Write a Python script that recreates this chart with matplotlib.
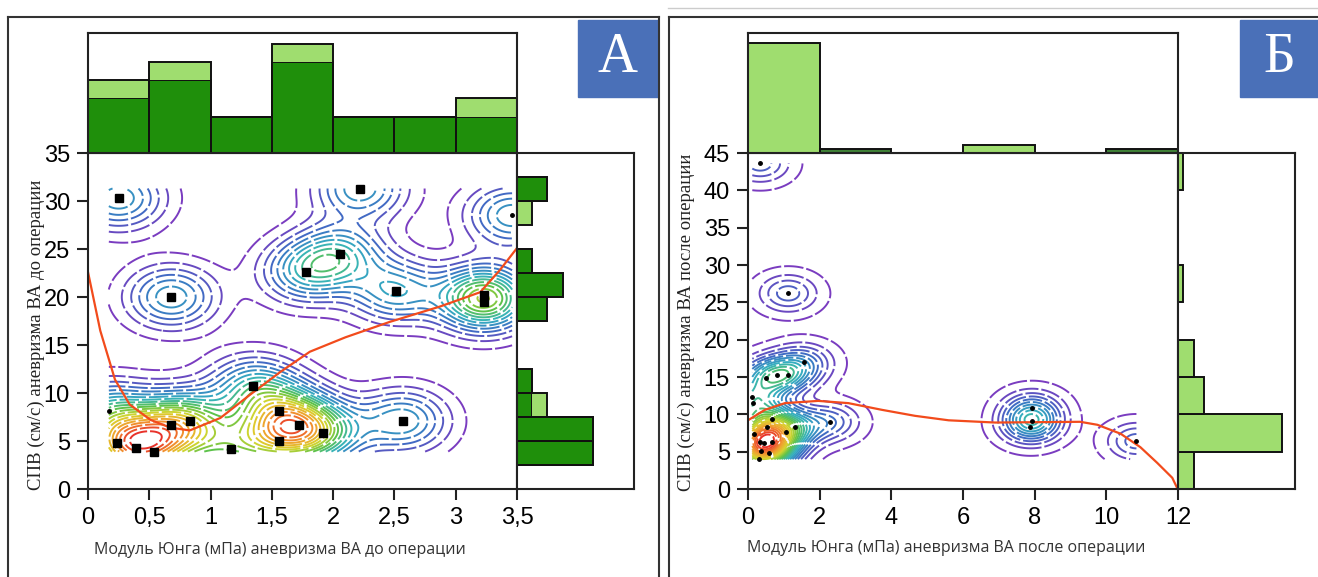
import numpy as np
import matplotlib
matplotlib.use('Agg')
import matplotlib.pyplot as plt
from matplotlib.lines import Line2D
from matplotlib.patches import Rectangle
from matplotlib.colors import LinearSegmentedColormap

# ---- Panel A data (before operation) ----
a_x = [0.25, 0.68, 2.22, 1.78, 2.06, 2.51, 3.23, 3.23, 1.35, 0.24, 0.39, 0.54,
       0.68, 0.83, 1.17, 1.56, 1.56, 1.72, 1.92, 2.57]
a_y = [30.3, 20.0, 31.3, 22.6, 24.5, 20.6, 20.2, 19.5, 10.7, 4.8, 4.3, 3.9,
       6.7, 7.1, 4.2, 8.1, 5.0, 6.7, 5.8, 7.1]
a_dot_x = [0.17, 3.46]
a_dot_y = [8.1, 28.5]

a_fit_x = [0.0, 0.10, 0.22, 0.34, 0.51, 0.67, 0.83, 1.08, 1.32, 1.57, 1.81, 2.10,
           2.46, 2.87, 3.20, 3.36, 3.50]
a_fit_y = [22.6, 16.5, 11.4, 8.8, 7.2, 6.4, 6.1, 7.4, 9.8, 12.2, 14.3, 15.8,
           17.4, 19.0, 20.5, 22.8, 25.1]

a_xbins = [0, 0.5, 1, 1.5, 2, 2.5, 3, 3.5]
a_top_dark = [3, 4, 2, 5, 2, 2, 2]
a_top_light = [1, 1, 0, 1, 0, 0, 1]

a_ybins = [2.5, 5, 7.5, 10, 12.5, 15, 17.5, 20, 22.5, 25, 27.5, 30, 32.5]
a_side_dark = [5, 5, 1, 1, 0, 0, 2, 3, 1, 0, 0, 2]
a_side_light = [0, 0, 1, 0, 0, 0, 0, 0, 0, 0, 1, 0]

a_xticks = [0, 0.5, 1, 1.5, 2, 2.5, 3, 3.5]
a_xticklabels = ['0', '0,5', '1', '1,5', '2', '2,5', '3', '3,5']
a_yticks = [0, 5, 10, 15, 20, 25, 30, 35]

# ---- Panel B data (after operation) ----
b_x = [0.34, 1.12, 1.56, 0.50, 0.80, 1.12, 0.12, 0.14, 2.30, 0.53, 0.17, 1.06,
       0.34, 0.45, 0.67, 0.36, 0.59, 0.31, 1.30, 0.67, 7.93, 7.93, 7.88, 10.84]
b_y = [43.6, 26.2, 17.0, 14.9, 15.3, 15.3, 12.3, 11.5, 9.0, 8.3, 7.4, 7.6,
       6.3, 6.1, 6.3, 5.1, 4.8, 4.0, 8.3, 9.4, 10.8, 9.1, 8.3, 6.4]

b_fit_x = [0.0, 0.47, 1.03, 1.96, 2.80, 3.74, 4.66, 5.60, 6.90, 9.27, 9.75, 10.40,
           10.95, 11.42, 11.84, 11.98]
b_fit_y = [9.2, 10.6, 11.5, 11.8, 11.5, 10.6, 9.8, 9.2, 8.9, 9.0, 8.6, 7.4,
           5.6, 3.5, 1.5, 0.1]

b_xbins = [0, 2, 4, 6, 8, 10, 12]
b_top_light = [29, 0, 0, 2, 0, 0]
b_top_dark = [0, 1, 0, 0, 0, 1]

b_ybins = [0, 5, 10, 15, 20, 25, 30, 35, 40, 45]
b_side = [3, 20, 5, 3, 0, 1, 0, 0, 1]

b_xticks = [0, 2, 4, 6, 8, 10, 12]
b_yticks = [0, 5, 10, 15, 20, 25, 30, 35, 40, 45]

DARK = '#1f8f0b'
LIGHT = '#9fdd6f'
DARK_B = '#3f8136'
FIT = '#f24b1c'
W, H = 1318, 577

dens_cmap = LinearSegmentedColormap.from_list(
    'dens', ['#7a3cc0', '#3b6fc4', '#35b3c0', '#5cc24a', '#d9d62e',
             '#f29a2e', '#e8322a'])


def box(x0, y0, x1, y1):
    # pixel box -> figure fraction rect
    return [x0 / W, 1 - y1 / H, (x1 - x0) / W, (y1 - y0) / H]


def kde(xs, ys, gx, gy, bx, by):
    GX, GY = np.meshgrid(gx, gy)
    Z = np.zeros_like(GX)
    for x, y in zip(xs, ys):
        Z += np.exp(-0.5 * ((GX - x) / bx) ** 2 - 0.5 * ((GY - y) / by) ** 2)
    return GX, GY, Z


def style_main(ax):
    for s in ax.spines.values():
        s.set_linewidth(1.5)
        s.set_color('#222222')
    ax.tick_params(direction='out', length=8, width=1.5, labelsize=17, pad=5,
                   color='#222222')
    for lab in ax.get_xticklabels() + ax.get_yticklabels():
        lab.set_fontfamily('Liberation Sans')


def style_hist(ax):
    ax.set_xticks([])
    ax.set_yticks([])
    for s in ax.spines.values():
        s.set_linewidth(1.5)
        s.set_color('#222222')


fig = plt.figure(figsize=(13.18, 5.77), dpi=100)
dash = [(0, (10, 1.5))]

# ---------------- Panel A ----------------
ax = fig.add_axes(box(88, 153, 517, 489))
gx = np.linspace(min(a_x + a_dot_x), max(a_x + a_dot_x), 240)
gy = np.linspace(min(a_y), max(a_y), 240)
GX, GY, Z = kde(a_x + a_dot_x, a_y + a_dot_y, gx, gy, 0.25, 2.2)
lev = np.linspace(0.035, 0.95, 21) * Z.max()
ax.contour(GX, GY, Z, levels=lev, cmap=dens_cmap, linewidths=1.4, linestyles=dash)
ax.plot(a_fit_x, a_fit_y, color=FIT, lw=1.6)
ax.plot(a_x, a_y, 's', color='black', ms=5.5)
ax.plot(a_dot_x, a_dot_y, 'o', color='black', ms=2.5)
ax.set_xlim(0, 3.5)
ax.set_ylim(0, 35)
ax.set_xticks(a_xticks)
ax.set_xticklabels(a_xticklabels)
ax.set_yticks(a_yticks)
style_main(ax)

axt = fig.add_axes(box(88, 33, 517, 153))
wa = np.diff(a_xbins)
axt.bar(a_xbins[:-1], a_top_dark, width=wa, align='edge', color=DARK,
        edgecolor='#111111', lw=1.4)
axt.bar(a_xbins[:-1], a_top_light, width=wa, bottom=a_top_dark, align='edge',
        color=LIGHT, edgecolor='none')
axt.bar(a_xbins[:-1], np.add(a_top_dark, a_top_light), width=wa, align='edge',
        color='none', edgecolor='#111111', lw=1.4)
axt.set_xlim(0, 3.5)
axt.set_ylim(0, 6.6)
style_hist(axt)

axr = fig.add_axes(box(517, 153, 634, 489))
ha = np.diff(a_ybins)
axr.barh(a_ybins[:-1], a_side_dark, height=ha, align='edge', color=DARK,
         edgecolor='#111111', lw=1.4)
axr.barh(a_ybins[:-1], a_side_light, height=ha, left=a_side_dark, align='edge',
         color=LIGHT, edgecolor='none')
axr.barh(a_ybins[:-1], np.add(a_side_dark, a_side_light), height=ha, align='edge',
         color='none', edgecolor='#111111', lw=1.4)
axr.set_ylim(0, 35)
axr.set_xlim(0, 7.7)
style_hist(axr)

fig.text(280 / W, 1 - 550 / H, 'Модуль Юнга (мПа) аневризма ВА до операции',
         ha='center', va='center', fontsize=11.5, family='Open Sans', color='#333333')
fig.text(36 / W, 1 - 335 / H, 'СПВ (см/с) аневризма ВА до операции',
         ha='center', va='center', rotation=90, fontsize=13.5,
         family='Liberation Serif', color='#222222')

# ---------------- Panel B ----------------
bx = fig.add_axes(box(748, 153, 1178, 489))
gx = np.linspace(min(b_x), max(b_x), 280)
gy = np.linspace(min(b_y), max(b_y), 280)
GX, GY, Z = kde(b_x, b_y, gx, gy, 0.55, 1.7)
lev = np.linspace(0.015, 0.95, 26) * Z.max()
bx.contour(GX, GY, Z, levels=lev, cmap=dens_cmap, linewidths=1.4, linestyles=dash)
bx.plot(b_fit_x, b_fit_y, color=FIT, lw=1.6)
bx.plot(b_x, b_y, 'o', color='black', ms=2.5)
bx.set_xlim(0, 12)
bx.set_ylim(0, 45)
bx.set_xticks(b_xticks)
bx.set_yticks(b_yticks)
style_main(bx)

bxt = fig.add_axes(box(748, 33, 1178, 153))
wb = np.diff(b_xbins)
bxt.bar(b_xbins[:-1], b_top_light, width=wb, align='edge', color=LIGHT,
        edgecolor='#111111', lw=1.4)
bxt.bar(b_xbins[:-1], b_top_dark, width=wb, align='edge', color=DARK_B,
        edgecolor='#111111', lw=1.4)
bxt.set_xlim(0, 12)
bxt.set_ylim(0, 31.7)
style_hist(bxt)

bxr = fig.add_axes(box(1178, 153, 1295, 489))
hb = np.diff(b_ybins)
bxr.barh(b_ybins[:-1], b_side, height=hb, align='edge', color=LIGHT,
         edgecolor='#111111', lw=1.4)
bxr.set_ylim(0, 45)
bxr.set_xlim(0, 22.5)
style_hist(bxr)

fig.text(946 / W, 1 - 548 / H, 'Модуль Юнга (мПа) аневризма ВА после операции',
         ha='center', va='center', fontsize=11.5, family='Open Sans', color='#333333')
fig.text(686 / W, 1 - 322 / H, 'СПВ (см/с) аневризма ВА после операции',
         ha='center', va='center', rotation=90, fontsize=13.5,
         family='Liberation Serif', color='#222222')

# ---------------- frames and panel letters ----------------
frame_kw = dict(color='#333333', lw=1.5, transform=fig.transFigure)
fig.add_artist(Line2D([8 / W, 8 / W], [0, 1 - 17 / H], **frame_kw))
fig.add_artist(Line2D([8 / W, 659 / W], [1 - 17 / H, 1 - 17 / H], **frame_kw))
fig.add_artist(Line2D([659 / W, 659 / W], [0, 1 - 17 / H], **frame_kw))
fig.add_artist(Line2D([669 / W, 669 / W], [0, 1 - 17 / H], **frame_kw))
fig.add_artist(Line2D([669 / W, 1], [1 - 17 / H, 1 - 17 / H], **frame_kw))
fig.add_artist(Line2D([668 / W, 1], [1 - 8 / H, 1 - 8 / H], color='#cccccc', lw=1,
                      transform=fig.transFigure))

for (x0, x1, letter) in [(578, 658, 'А'), (1240, 1318, 'Б')]:
    r = box(x0, 20, x1, 97)
    fig.add_artist(Rectangle((r[0], r[1]), r[2], r[3], color='#4a70b8',
                             transform=fig.transFigure))
    fig.text(r[0] + r[2] / 2, r[1] + r[3] / 2, letter, ha='center', va='center',
             fontsize=40, family='Liberation Serif', color='white')

fig.savefig('out.png', dpi=100)
